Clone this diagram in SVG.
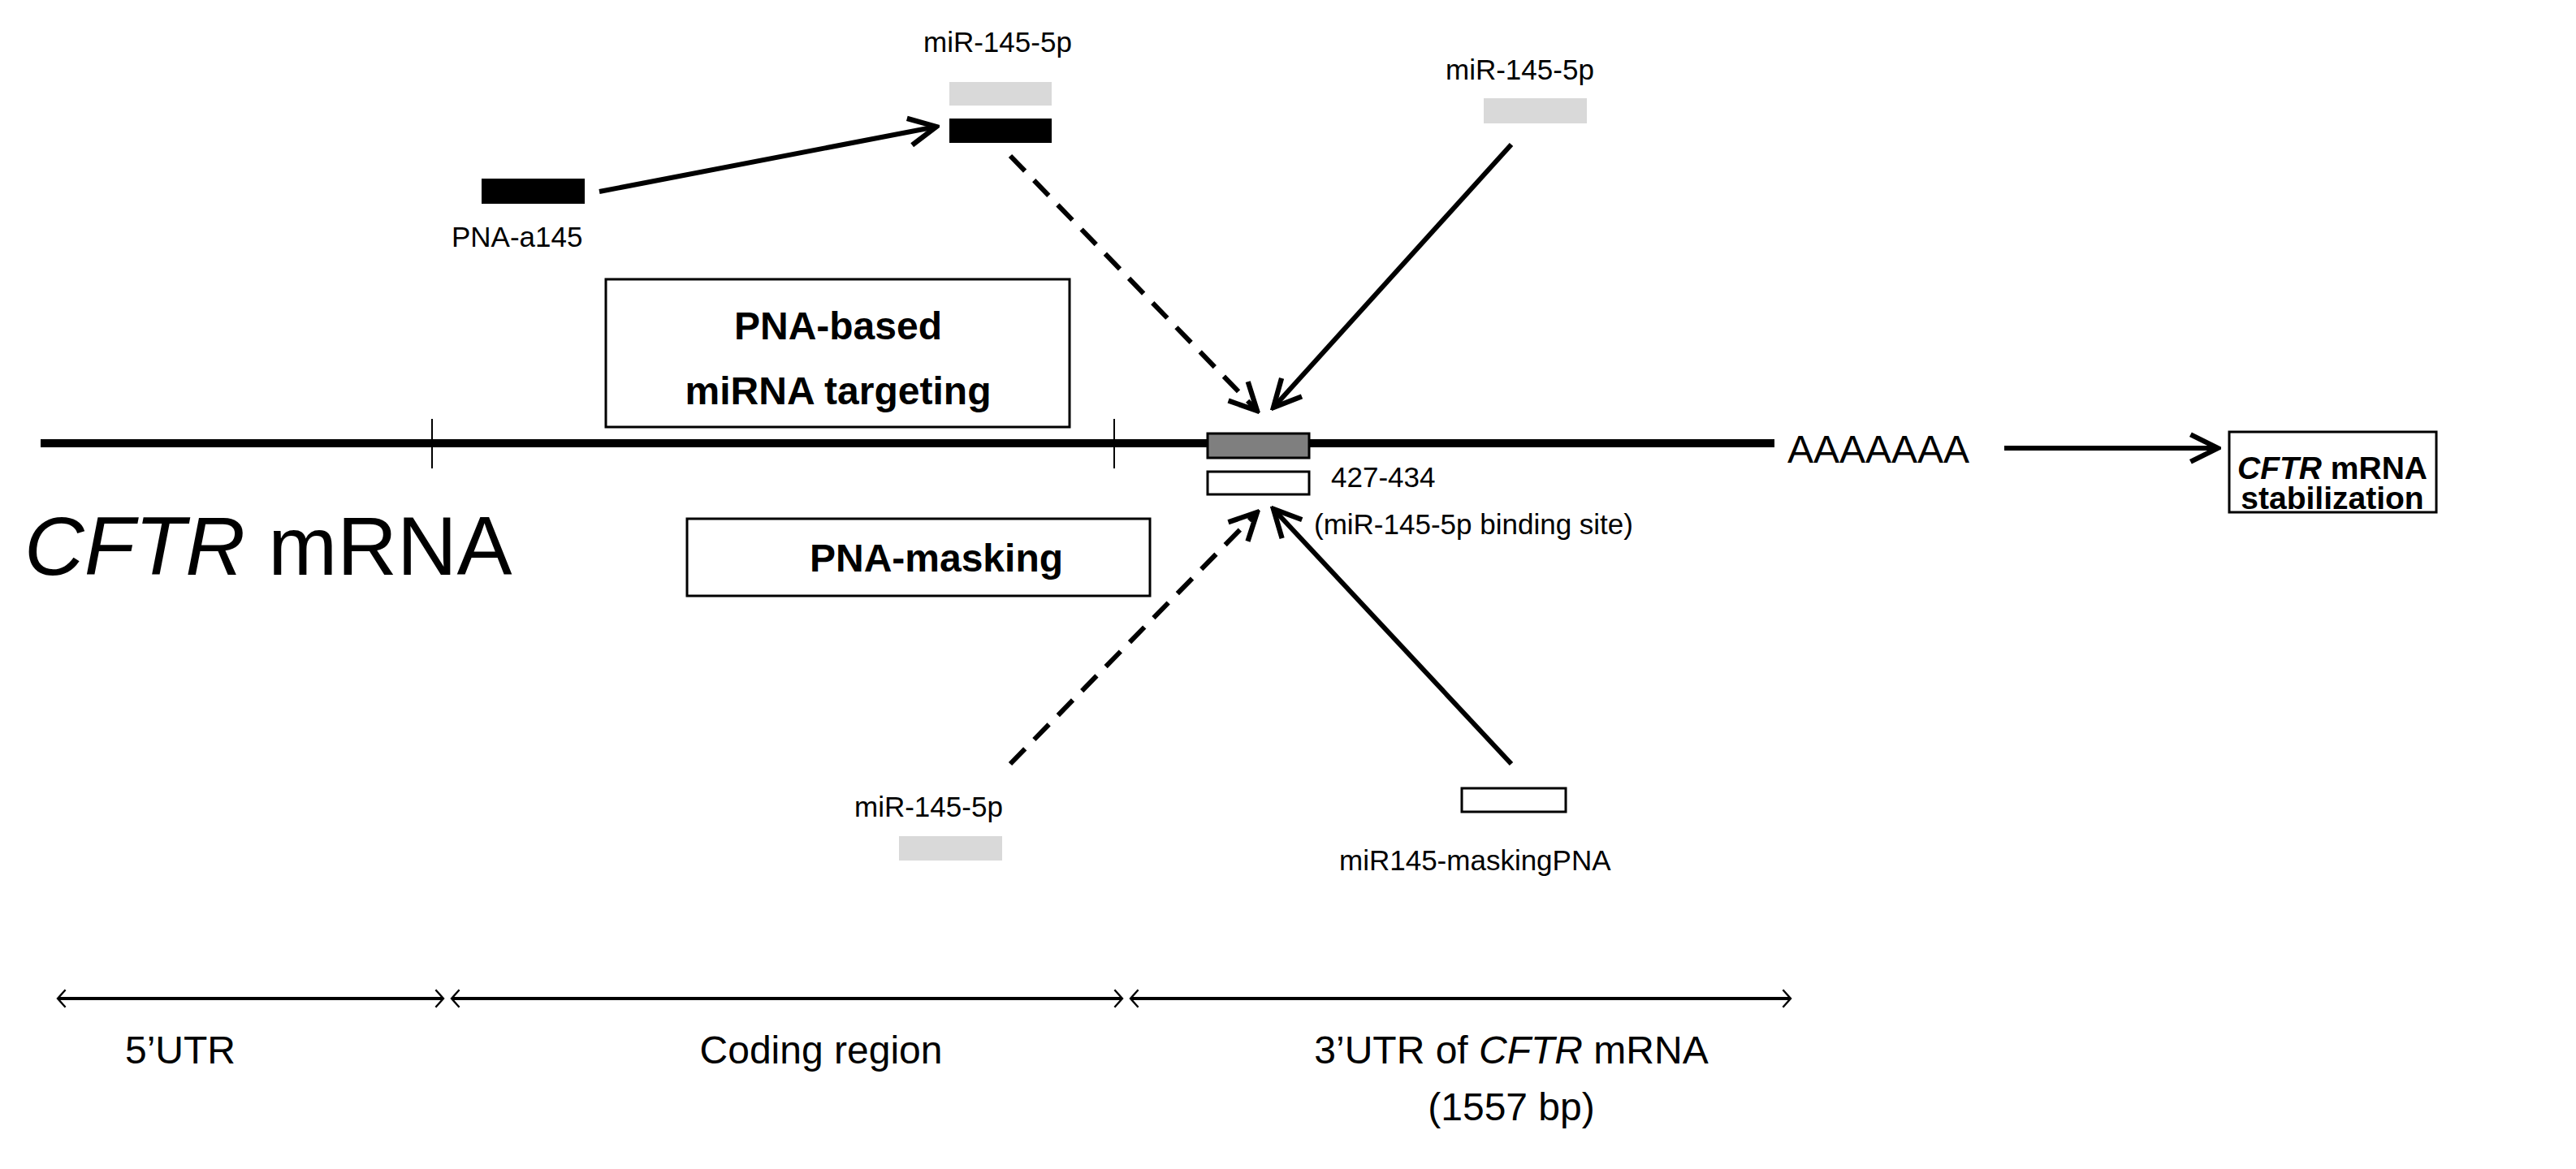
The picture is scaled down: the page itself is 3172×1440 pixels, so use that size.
<svg xmlns="http://www.w3.org/2000/svg" width="3172" height="1440" viewBox="0 0 3172 1440">
<style>
text{font-family:"Liberation Sans",Arial,sans-serif;fill:#000}
.lbl{font-size:35px}
.big{font-size:48px;font-weight:bold}
.ax{font-size:48px}
.c{stroke:#000;stroke-width:6;fill:none}
.d{stroke-dasharray:26 16}
.box{fill:#fff;stroke:#000;stroke-width:3}
.gray{fill:#d9d9d9}
</style>
<defs>
<marker id="ah" viewBox="0 0 20 20" refX="18" refY="10" markerWidth="7" markerHeight="7" orient="auto" markerUnits="strokeWidth">
<path d="M2,2 L18,10 L2,18" fill="none" stroke="#000" stroke-width="3"/>
</marker>
<marker id="as" viewBox="0 0 20 20" refX="18" refY="10" markerWidth="24" markerHeight="24" orient="auto-start-reverse" markerUnits="userSpaceOnUse">
<path d="M10,1 L18,10 L10,19" fill="none" stroke="#000" stroke-width="2"/>
</marker>
</defs>
<g id="mrna">
<line x1="50" y1="546" x2="2185" y2="546" stroke="#000" stroke-width="10"/>
<line x1="532" y1="516" x2="532" y2="577" stroke="#000" stroke-width="2"/>
<line x1="1372" y1="516" x2="1372" y2="577" stroke="#000" stroke-width="2"/>
<text x="2201" y="570" style="font-size:48px">AAAAAAA</text>
<text x="30" y="708" style="font-size:102px"><tspan font-style="italic">CFTR</tspan> mRNA</text>
</g>
<g id="site">
<rect x="1487" y="534" width="125" height="30" fill="#7f7f7f" stroke="#000" stroke-width="3"/>
<rect x="1487" y="581" width="125" height="28" class="box"/>
<text x="1639" y="600" class="lbl">427-434</text>
<text x="1618" y="658" class="lbl">(miR-145-5p binding site)</text>
</g>
<g id="box-targeting">
<rect x="746" y="344" width="571" height="182" class="box"/>
<text x="1032" y="418" class="big" text-anchor="middle">PNA-based</text>
<text x="1032" y="498" class="big" text-anchor="middle">miRNA targeting</text>
</g>
<g id="box-masking">
<rect x="846" y="639" width="570" height="95" class="box"/>
<text x="1153" y="704" class="big" text-anchor="middle">PNA-masking</text>
</g>
<g id="box-stab">
<rect x="2745" y="532" width="255" height="99" class="box"/>
<text x="2872" y="590" class="big" style="font-size:39px" text-anchor="middle"><tspan font-style="italic">CFTR</tspan> mRNA</text>
<text x="2872" y="627" class="big" style="font-size:39px" text-anchor="middle">stabilization</text>
</g>
<g id="pna-a145">
<rect x="593" y="220" width="127" height="31"/>
<text x="556" y="304" class="lbl">PNA-a145</text>
</g>
<g id="mir-top">
<rect x="1169" y="101" width="126" height="29" class="gray"/>
<rect x="1169" y="146" width="126" height="30"/>
<text x="1137" y="64" class="lbl">miR-145-5p</text>
</g>
<g id="mir-right">
<rect x="1827" y="121" width="127" height="31" class="gray"/>
<text x="1780" y="98" class="lbl">miR-145-5p</text>
</g>
<g id="mir-bottom">
<rect x="1107" y="1030" width="127" height="30" class="gray"/>
<text x="1052" y="1006" class="lbl">miR-145-5p</text>
</g>
<g id="masking-pna">
<rect x="1800" y="971" width="128" height="29" class="box"/>
<text x="1649" y="1072" class="lbl">miR145-maskingPNA</text>
</g>
<g id="connectors">
<line x1="738" y1="236" x2="1153" y2="156" class="c" marker-end="url(#ah)"/>
<line x1="1244" y1="192" x2="1548" y2="506" class="c d" marker-end="url(#ah)"/>
<line x1="1861" y1="178" x2="1568" y2="502" class="c" marker-end="url(#ah)"/>
<line x1="1244" y1="941" x2="1548" y2="631" class="c d" marker-end="url(#ah)"/>
<line x1="1861" y1="941" x2="1568" y2="627" class="c" marker-end="url(#ah)"/>
<line x1="2468" y1="552" x2="2731" y2="552" class="c" marker-end="url(#ah)"/>
<line x1="71" y1="1230" x2="546" y2="1230" stroke="#000" stroke-width="4" marker-start="url(#as)" marker-end="url(#as)"/>
<line x1="556" y1="1230" x2="1382" y2="1230" stroke="#000" stroke-width="4" marker-start="url(#as)" marker-end="url(#as)"/>
<line x1="1392" y1="1230" x2="2205" y2="1230" stroke="#000" stroke-width="4" marker-start="url(#as)" marker-end="url(#as)"/>
</g>
<g id="axis-labels">
<text x="222" y="1310" class="ax" text-anchor="middle">5’UTR</text>
<text x="1011" y="1310" class="ax" text-anchor="middle">Coding region</text>
<text x="1861" y="1310" class="ax" text-anchor="middle">3’UTR of <tspan font-style="italic">CFTR</tspan> mRNA</text>
<text x="1861" y="1380" class="ax" text-anchor="middle">(1557 bp)</text>
</g>
</svg>
